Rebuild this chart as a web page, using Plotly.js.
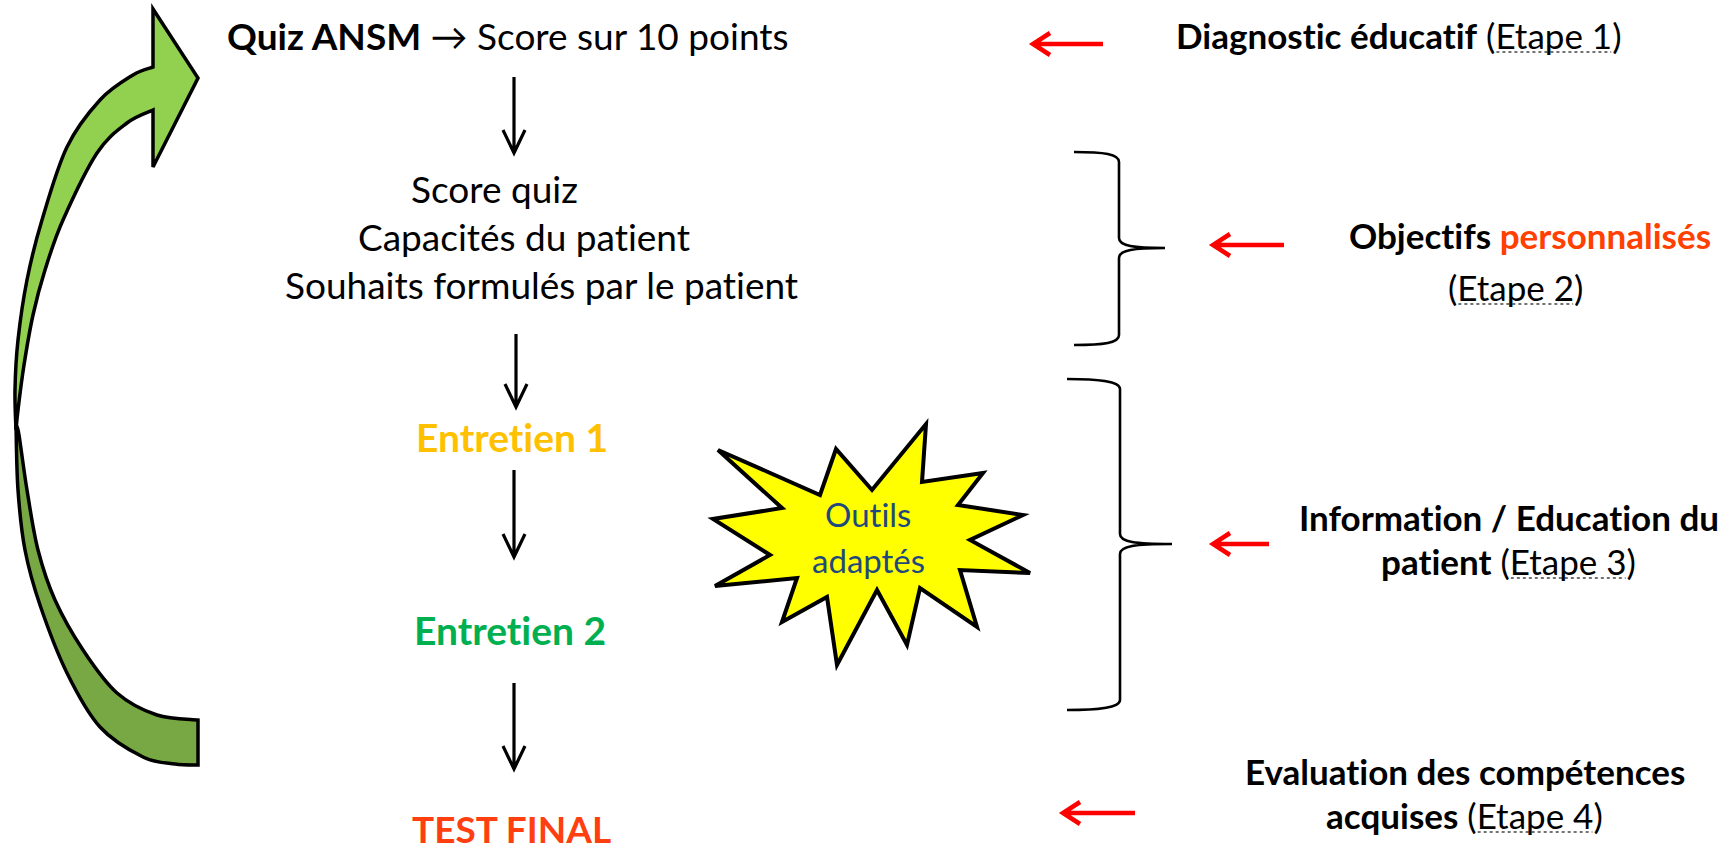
<!DOCTYPE html>
<html>
<head>
<meta charset="utf-8">
<script src="https://cdn.plot.ly/plotly-3.0.1.min.js"></script>
<style>
html,body{margin:0;padding:0;background:#fff;}
#chart{width:1733px;height:851px;}
text{font-variant-ligatures:none;font-feature-settings:"liga" 0, "clig" 0;}
</style>
</head>
<body>
<div id="chart"></div>
<script>
// ---- text content ----
const flowLabels = [
  "<b>Quiz ANSM</b> → Score sur 10 points",
  "Score quiz",
  "Capacités du patient",
  "Souhaits formulés par le patient",
  "<b>Entretien 1</b>",
  "<b>Entretien 2</b>",
  "<b>TEST FINAL</b>"
];
const flowColors = ["#000000", "#000000", "#000000", "#000000", "#FFC000", "#00B050", "#FF3F0F"];
const stepLabels = [
  "<b>Diagnostic éducatif</b> (<span>Etape 1</span>)",
  "<b>Objectifs <span style=\"color:#FF4000\">personnalisés</span></b>",
  "(<span>Etape 2</span>)",
  "<b>Information / Education du</b>",
  "<b>patient</b> (<span>Etape 3</span>)",
  "<b>Evaluation des compétences</b>",
  "<b>acquises</b> (<span>Etape 4</span>)"
];
const starLabels = ["Outils", "adaptés"];

// ---- layout geometry (pixel units, y downward) ----
const flowPos = [[508, 35], [494, 188], [524, 236], [541, 284], [512, 437], [510, 630], [511, 828]];
const flowSizes = [37, 37, 37, 37, 39, 39, 37];
const stepPos = [[1399, 35], [1530, 235], [1515, 287], [1509, 517], [1508, 561], [1465, 771], [1464, 815]];
const starTextPos = [[868, 514], [868, 560]];
const downArrows = [[514, 77, 153], [516, 334, 407], [514, 470, 557], [514, 683, 769]];
const redArrows = [[1031, 1103, 44], [1211, 1284, 245], [1211, 1269, 544], [1061, 1135, 813]];
const braces = [[1074, 1119, 1165, 152, 248, 345], [1067, 1120, 1172, 379, 544, 710]];
const starPts = [[718,450],[820,495],[836,449],[872,490],[926,424],[922,482],[983,473],[958,505],[1023,515],[970,540],[1030,573],[960,570],[977,627],[920,588],[907,645],[877,590],[837,665],[827,597],[782,622],[797,578],[715,586],[770,555],[713,519],[782,508]];

function smooth(pts) {
  let s = '';
  for (let i = 0; i < pts.length - 1; i++) {
    const p0 = pts[i - 1] || pts[i], p1 = pts[i], p2 = pts[i + 1], p3 = pts[i + 2] || pts[i + 1];
    const c1 = [p1[0] + (p2[0] - p0[0]) / 6, p1[1] + (p2[1] - p0[1]) / 6];
    const c2 = [p2[0] - (p3[0] - p1[0]) / 6, p2[1] - (p3[1] - p1[1]) / 6];
    s += ` C ${c1[0].toFixed(1)},${c1[1].toFixed(1)} ${c2[0].toFixed(1)},${c2[1].toFixed(1)} ${p2[0]},${p2[1]}`;
  }
  return s;
}

const shapes = [];
// green curved arrow - lower (back) part
const lowOuter = [[16,425],[18,490],[25,550],[40,605],[67,673],[100,727],[143,757],[175,764],[198,765]];
const lowInner = [[198,720],[157,715],[117,693],[83,650],[55,600],[38,550],[27,490],[19,435],[16,425]];
shapes.push({type:'path', xref:'x', yref:'y', layer:'above',
  path: `M ${lowOuter[0][0]},${lowOuter[0][1]}` + smooth(lowOuter) + ` L ${lowInner[0][0]},${lowInner[0][1]}` + smooth(lowInner) + ' Z',
  fillcolor:'#77A843', line:{color:'#000', width:3.5}});
// upper (front) part with head
const upInner = [[153,110],[127,123],[97,153],[63,220],[45,270],[33,315],[24,365],[18,410],[16,430]];
const upOuter = [[16,430],[15,390],[18,340],[27,280],[42,220],[67,147],[100,100],[133,75],[153,67]];
shapes.push({type:'path', xref:'x', yref:'y', layer:'above',
  path: 'M 153,67 L 153,9 L 198,78 L 153,167 L 153,110' + smooth(upInner) + smooth(upOuter) + ' Z',
  fillcolor:'#92D050', line:{color:'#000', width:3.5}});

// black down arrows
downArrows.forEach(a => {
  const [x, y0, y1] = a;
  shapes.push({type:'path', xref:'x', yref:'y',
    path: `M ${x},${y0} L ${x},${y1} M ${x-11},${y1-23} L ${x},${y1} L ${x+11},${y1-23}`,
    line:{color:'#000', width:3.2}});
});
// red left arrows
redArrows.forEach(a => {
  const [x0, x1, y] = a;
  shapes.push({type:'path', xref:'x', yref:'y',
    path: `M ${x1},${y} L ${x0+2},${y} M ${x0+19},${y-11} L ${x0+2},${y} L ${x0+19},${y+11}`,
    line:{color:'#FF0000', width:4.5}});
});
// braces
braces.forEach(b => {
  const [xl, xm, xt, yt, ym, yb] = b;
  shapes.push({type:'path', xref:'x', yref:'y',
    path: `M ${xl},${yt} C ${xl+30},${yt} ${xm},${yt+2} ${xm},${yt+10} L ${xm},${ym-10} C ${xm},${ym-2} ${xm+15},${ym} ${xt},${ym} ` +
          `C ${xm+15},${ym} ${xm},${ym+2} ${xm},${ym+10} L ${xm},${yb-10} C ${xm},${yb-2} ${xl+30},${yb} ${xl},${yb}`,
    line:{color:'#000', width:2.6}});
});
// star
shapes.push({type:'path', xref:'x', yref:'y',
  path: 'M ' + starPts.map(p => p[0] + ',' + p[1]).join(' L ') + ' Z',
  fillcolor:'#FFFF00', line:{color:'#000', width:4}});

const annotations = [];
flowLabels.forEach((t, i) => {
  const a = {x: flowPos[i][0], y: flowPos[i][1], xref:'x', yref:'y', text: t, showarrow:false,
    xanchor:'center', yanchor:'middle', font:{family:'Lato, sans-serif', size:flowSizes[i], color: flowColors[i]}};
  if (i === flowLabels.length - 1) a.height = 38;
  annotations.push(a);
});
stepLabels.forEach((t, i) => {
  annotations.push({x: stepPos[i][0], y: stepPos[i][1], xref:'x', yref:'y', text: t, showarrow:false,
    xanchor:'center', yanchor:'middle', font:{family:'Lato, sans-serif', size:35, color:'#000'}});
});
starLabels.forEach((t, i) => {
  annotations.push({x: starTextPos[i][0], y: starTextPos[i][1], xref:'x', yref:'y', text: t, showarrow:false,
    xanchor:'center', yanchor:'middle', font:{family:'Lato, sans-serif', size:33, color:'#1F497D'}});
});

const layout = {
  width: 1733, height: 851,
  margin: {l:0, r:0, t:0, b:0},
  paper_bgcolor:'#fff', plot_bgcolor:'#fff',
  xaxis: {range:[0,1733], visible:false, fixedrange:true},
  yaxis: {range:[851,0], visible:false, fixedrange:true},
  showlegend:false,
  shapes: shapes,
  annotations: annotations
};
const gd = document.getElementById('chart');
Plotly.newPlot(gd, [], layout, {displayModeBar:false, staticPlot:true}).then(() => {
  // dotted underline under the "Etape N" words, measured from the rendered text
  const box = gd.getBoundingClientRect();
  const extra = [];
  gd.querySelectorAll('.annotation-text tspan').forEach(ts => {
    if (/^Etape \d$/.test(ts.textContent)) {
      const r = ts.getBoundingClientRect();
      const y = r.bottom - box.top - 4;
      extra.push({type:'line', xref:'x', yref:'y', x0: r.left - box.left + 1, x1: r.right - box.left - 1,
        y0: y, y1: y, line:{color:'#444', width:1.6, dash:'dot'}});
    }
  });
  if (extra.length) Plotly.relayout(gd, {shapes: shapes.concat(extra)});
});
</script>
</body>
</html>
